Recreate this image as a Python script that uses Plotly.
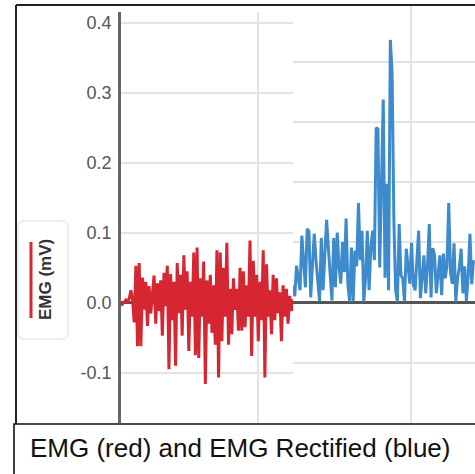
import plotly.graph_objects as go

W, H = 475, 474

# ---- data ----
red_emg = [
    -0.004, -0.002, 0.001, 0.004, 0.002, 0.006, 0.018, 0.004,
    -0.028, 0.053, -0.062, 0.057, -0.062, 0.036, -0.010, 0.030,
    -0.033, 0.024, -0.015, 0.012, 0.039, -0.030, 0.028, -0.012,
    0.032, -0.047, 0.043, -0.005, 0.053, -0.095, 0.041, -0.025,
    0.030, -0.090, 0.057, -0.015, 0.040, -0.047, 0.068, -0.010,
    0.045, -0.069, 0.030, -0.020, 0.072, -0.075, 0.079, -0.079,
    0.035, -0.020, 0.059, -0.116, 0.032, -0.030, 0.040, -0.043,
    0.025, -0.060, 0.075, -0.107, 0.072, -0.055, 0.050, -0.020,
    0.086, -0.060, 0.020, -0.045, 0.035, -0.010, 0.020, -0.040,
    0.050, -0.040, 0.045, -0.035, 0.025, -0.020, 0.089, -0.076,
    0.060, -0.020, 0.040, -0.055, 0.030, -0.025, 0.075, -0.107,
    0.055, -0.020, 0.018, -0.045, 0.040, -0.025, 0.035, -0.015,
    0.015, -0.055, 0.025, -0.020, 0.020, -0.030, 0.010, -0.012,
    0.005,
]

blue_rectified = [
    0.028, 0.010, 0.061, 0.035, 0.020, 0.111, 0.060, 0.025, 0.122, 0.118,
    0.008, 0.060, 0.114, 0.070, 0.030, 0.002, 0.107, 0.020, 0.080, 0.137,
    0.090, 0.040, 0.003, 0.107, 0.025, 0.116, 0.060, 0.031, 0.100, 0.050,
    0.139, 0.030, 0.001, 0.091, 0.002, 0.086, 0.060, 0.165, 0.070, 0.119,
    0.001, 0.040, 0.119, 0.020, 0.090, 0.119, 0.070,
    0.290, 0.288, 0.058, 0.200, 0.337, 0.041, 0.197, 0.020, 0.436, 0.380,
    0.136, 0.020,
    0.001, 0.130, 0.045, 0.040, 0.001, 0.089, 0.060, 0.031, 0.099, 0.030,
    0.020, 0.070, 0.119, 0.007, 0.050, 0.078, 0.015, 0.060, 0.130, 0.008,
    0.090, 0.078, 0.015, 0.050, 0.078, 0.012, 0.081, 0.040, 0.060, 0.165,
    0.050, 0.031, 0.098, 0.001, 0.040, 0.058, 0.089, 0.015, 0.060, 0.002,
    0.045, 0.114, 0.030, 0.070,
]

dt = 0.01
red_t = [i * dt for i in range(len(red_emg))]
blue_t = [i * dt for i in range(len(blue_rectified))]
left_xgrid = [0.828]
right_xgrid = [0.665]

y_tickvals = [-0.1, 0.0, 0.1, 0.2, 0.3, 0.4]
y_ticktext = ["-0.1", "0.0", "0.1", "0.2", "0.3", "0.4"]

title_text = "EMG (red) and EMG Rectified (blue)"
legend_text = "EMG (mV)"

RED = "#d62632"
BLUE = "#3d8bcd"
GRID = "#e3e3e3"


def px(x):
    return x / W


def py(y):
    return 1 - y / H


fig = go.Figure()
fig.add_trace(go.Scatter(x=red_t, y=red_emg, mode="lines", line=dict(color=RED, width=3),
                         xaxis="x", yaxis="y", showlegend=False, hoverinfo="skip"))
fig.add_trace(go.Scatter(x=blue_t, y=blue_rectified, mode="lines", line=dict(color=BLUE, width=3),
                         xaxis="x2", yaxis="y2", showlegend=False, hoverinfo="skip"))

# rounded legend box path
x0, x1, y0, y1, r = 18, 68, 221, 339, 6
path = (f"M {px(x0 + r)},{py(y0)} L {px(x1 - r)},{py(y0)} Q {px(x1)},{py(y0)} {px(x1)},{py(y0 + r)} "
        f"L {px(x1)},{py(y1 - r)} Q {px(x1)},{py(y1)} {px(x1 - r)},{py(y1)} "
        f"L {px(x0 + r)},{py(y1)} Q {px(x0)},{py(y1)} {px(x0)},{py(y1 - r)} "
        f"L {px(x0)},{py(y0 + r)} Q {px(x0)},{py(y0)} {px(x0 + r)},{py(y0)} Z")

shapes = [
    dict(type="line", xref="paper", yref="paper", x0=px(16), x1=px(476), y0=py(5), y1=py(5),
         line=dict(color="#222", width=2)),
    dict(type="line", xref="paper", yref="paper", x0=px(16), x1=px(16), y0=py(5), y1=py(424),
         line=dict(color="#222", width=2)),
    dict(type="rect", xref="paper", yref="paper", x0=px(14), x1=px(477), y0=py(424), y1=py(477),
         fillcolor="white", line=dict(color="#111", width=1.6)),
    dict(type="path", xref="paper", yref="paper", path=path, fillcolor="white",
         line=dict(color="#dcdcdc", width=1)),
    dict(type="line", xref="paper", yref="paper", x0=px(31), x1=px(31), y0=py(242), y1=py(318),
         line=dict(color=RED, width=3)),
]

annotations = [
    dict(text=title_text, xref="paper", yref="paper", x=px(240), y=py(448), showarrow=False,
         xanchor="center", yanchor="middle", font=dict(family="Liberation Sans", size=26, color="#111")),
    dict(text=f"<b>{legend_text}</b>", xref="paper", yref="paper", x=px(45), y=py(280), showarrow=False,
         textangle=-90, xanchor="center", yanchor="middle",
         font=dict(family="Liberation Sans", size=17, color="#333")),
]

fig.update_layout(
    width=W, height=H, margin=dict(l=0, r=0, t=0, b=0),
    paper_bgcolor="white", plot_bgcolor="white",
    xaxis=dict(domain=[px(121), px(293)], range=[0, red_t[-1]], tickvals=left_xgrid,
               showticklabels=False, showgrid=True, gridcolor=GRID, gridwidth=1.5,
               zeroline=False, showline=False, ticks="", anchor="y", fixedrange=True),
    yaxis=dict(domain=[py(423), py(12)], range=[-0.172, 0.416],
               tickvals=y_tickvals, ticktext=y_ticktext,
               showline=True, linecolor="#666", linewidth=2.5, showgrid=True, gridcolor=GRID,
               gridwidth=1.5, zeroline=True, zerolinecolor="#555", zerolinewidth=2.5,
               tickfont=dict(family="Liberation Sans", size=18, color="#555"),
               ticks="", ticklabelstandoff=3, anchor="x", fixedrange=True),
    xaxis2=dict(domain=[px(293), 1], range=[0, 1.0285], tickvals=right_xgrid,
                showticklabels=False, showgrid=True, gridcolor=GRID, gridwidth=1.5,
                zeroline=False, showline=False, ticks="", anchor="y2", fixedrange=True),
    yaxis2=dict(domain=[py(423), py(5)], range=[-0.2005, 0.494], dtick=0.1, showticklabels=False,
                showline=False, showgrid=True, gridcolor=GRID, gridwidth=1.5,
                zeroline=True, zerolinecolor="#555", zerolinewidth=2.5, ticks="",
                anchor="x2", fixedrange=True),
    shapes=shapes,
    annotations=annotations,
)

fig.write_html("out.html", config={"displayModeBar": False},
               post_script="document.body.style.margin='0px';")
